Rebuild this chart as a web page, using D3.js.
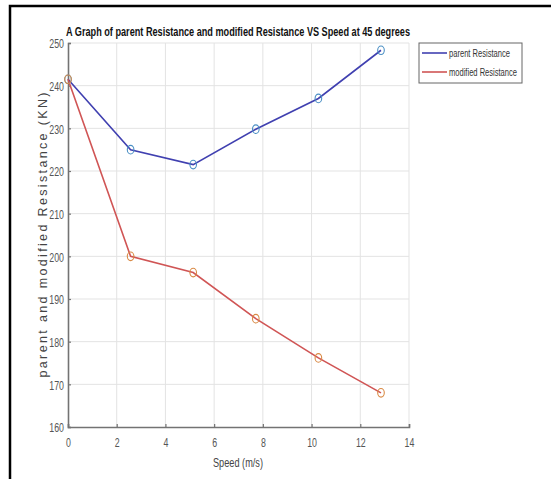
<!DOCTYPE html>
<html><head><meta charset="utf-8">
<script src="https://cdn.jsdelivr.net/npm/d3@7"></script>
<style>
html,body{margin:0;padding:0;background:#fff;}
svg{display:block;}
</style></head>
<body>
<svg id="c" width="551" height="479"></svg>
<script>
const speeds = [0, 2.57, 5.14, 7.71, 10.28, 12.85];
const parentResistance = [241.5, 225.0, 221.5, 229.8, 237.0, 248.3];
const modifiedResistance = [241.5, 200.0, 196.2, 185.4, 176.2, 168.0];
const xTicks = [0, 2, 4, 6, 8, 10, 12, 14];
const yTicks = [160, 170, 180, 190, 200, 210, 220, 230, 240, 250];
const seriesNames = ["parent Resistance", "modified Resistance"];
const titleText = "A Graph of parent Resistance and modified Resistance VS Speed at 45 degrees";
const xLabel = "Speed (m/s)";
const yLabel = "parent and modified Resistance (KN)";

const svg = d3.select("#c");
const narrow = "'Liberation Sans Narrow','Arial Narrow','Liberation Sans',Arial,sans-serif";

// outer frame
svg.append("rect").attr("x",10).attr("y",6).attr("width",560).attr("height",490)
  .attr("fill","#fff").attr("stroke","#000").attr("stroke-width",2.5);

const x = d3.scaleLinear().domain([0,14]).range([68,409]);
const y = d3.scaleLinear().domain([160,250]).range([427,43]);

// grid
svg.append("g").selectAll("line").data(xTicks.slice(1)).join("line")
  .attr("x1",d=>x(d)).attr("x2",d=>x(d)).attr("y1",y(160)).attr("y2",y(250))
  .attr("stroke","#e3e3e3").attr("stroke-width",1);
svg.append("g").selectAll("line").data(yTicks.slice(1)).join("line")
  .attr("x1",x(0)).attr("x2",x(14)).attr("y1",d=>y(d)).attr("y2",d=>y(d))
  .attr("stroke","#e3e3e3").attr("stroke-width",1);

// axes
const xAxis = d3.axisBottom(x).tickValues(xTicks).tickSize(-3).tickPadding(11).tickFormat(d3.format("d"));
const yAxis = d3.axisLeft(y).tickValues(yTicks).tickSize(-3).tickPadding(4).tickFormat(d3.format("d"));
const gx = svg.append("g").attr("transform",`translate(0,${y(160)})`).call(xAxis);
const gy = svg.append("g").attr("transform",`translate(${x(0)},0)`).call(yAxis);
[gx,gy].forEach(g=>{
  g.select(".domain").attr("stroke","#737373").attr("stroke-width",1.6);
  g.selectAll(".tick line").attr("stroke","#737373").attr("stroke-width",1.2);
  g.selectAll(".tick text").attr("fill","#555").attr("font-size","12px").attr("font-family",narrow)
    .attr("lengthAdjust","spacingAndGlyphs")
    .attr("textLength",d=>String(d).length*4.9);
});
gx.selectAll(".tick text").attr("dy","0.75em");
gy.selectAll(".tick text").attr("dy","0.4em");

// lines
const line = d3.line().x((d,i)=>x(speeds[i])).y(d=>y(d));
svg.append("path").datum(parentResistance).attr("d",line)
  .attr("fill","none").attr("stroke","#4040b0").attr("stroke-width",1.6);
svg.append("path").datum(modifiedResistance).attr("d",line)
  .attr("fill","none").attr("stroke","#d05555").attr("stroke-width",1.6);

// markers
svg.append("g").selectAll("ellipse").data(parentResistance).join("ellipse")
  .attr("cx",(d,i)=>x(speeds[i])).attr("cy",d=>y(d)).attr("rx",3.3).attr("ry",4.3)
  .attr("fill","none").attr("stroke","#4a8fc4").attr("stroke-width",1.1);
svg.append("g").selectAll("ellipse").data(modifiedResistance).join("ellipse")
  .attr("cx",(d,i)=>x(speeds[i])).attr("cy",d=>y(d)).attr("rx",3.3).attr("ry",4.3)
  .attr("fill","none").attr("stroke","#d98a45").attr("stroke-width",1.1);

// title
svg.append("text").attr("x",238).attr("y",36).attr("text-anchor","middle")
  .attr("font-family",narrow).attr("font-weight","bold").attr("font-size","12px")
  .attr("fill","#111").attr("textLength",344).attr("lengthAdjust","spacingAndGlyphs")
  .text(titleText);

// x label
svg.append("text").attr("x",238).attr("y",467).attr("text-anchor","middle")
  .attr("font-family",narrow).attr("font-size","12.5px").attr("fill","#444")
  .attr("textLength",50).attr("lengthAdjust","spacingAndGlyphs")
  .text(xLabel);

// y label
svg.append("text").attr("transform","translate(47,235) rotate(-90)").attr("text-anchor","middle")
  .attr("font-family","'Liberation Sans',Arial,sans-serif").attr("font-size","12.5px").attr("fill","#444")
  .attr("textLength",285).attr("lengthAdjust","spacing")
  .text(yLabel);

// legend
const lg = svg.append("g");
lg.append("rect").attr("x",419).attr("y",43).attr("width",103).attr("height",40)
  .attr("fill","#fff").attr("stroke","#666").attr("stroke-width",1);
const legColors = ["#4040b0","#d05555"];
const legY = [53,72];
seriesNames.forEach((n,i)=>{
  lg.append("line").attr("x1",422).attr("x2",447).attr("y1",legY[i]).attr("y2",legY[i])
    .attr("stroke",legColors[i]).attr("stroke-width",1.6);
  lg.append("text").attr("x",449).attr("y",legY[i]+3.5)
    .attr("font-family",narrow).attr("font-size","10px").attr("fill","#333")
    .attr("textLength", i===0?61:68).attr("lengthAdjust","spacingAndGlyphs")
    .text(n);
});
</script>
</body></html>
